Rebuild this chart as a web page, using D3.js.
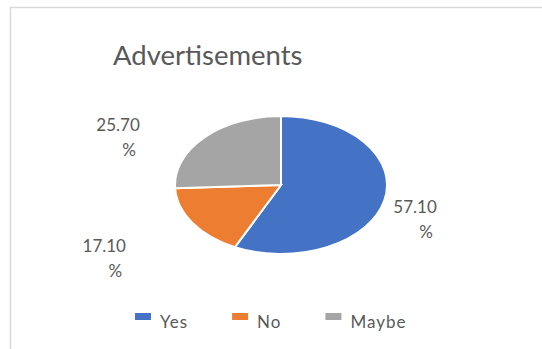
<html lang="en">
<head>
<style>
  body { margin: 0; background: #fff; }
  text { font-family: Lato, "Open Sans", sans-serif; fill: #595959; }
</style>
</head>
<body>
<script type='text/javascript' src='https://d3js.org/d3.v7.min.js'></script>
<script>
    var categories = ["Yes", "No", "Maybe"];
    var values = [57.10, 17.10, 25.70];
    var colors = ["#4472C4", "#ED7D31", "#A5A5A5"];
    var title = "Advertisements";

    // label nudges (layout only), relative to the slice's outer edge at mid angle
    var labelNudge = [[9, 13], [-110, 29], [-108, -6]];

    var width = 542, height = 349;
    var cx = 281, cy = 185, rx = 106, ry = 69;

    var svg = d3.select("body").append("svg")
        .attr("width", width)
        .attr("height", height);

    // chart border (only left/top visible in frame)
    svg.append("path")
        .attr("d", "M10.5," + height + "V7.5H" + width)
        .attr("fill", "none")
        .attr("stroke", "#d9d9d9")
        .attr("stroke-width", 1.5);

    svg.append("text")
        .attr("x", 113)
        .attr("y", 65)
        .style("font-size", "27.5px")
        .text(title);

    var pie = d3.pie().sort(null);
    var arcs = pie(values);
    var arc = d3.arc().innerRadius(0).outerRadius(rx);

    var g = svg.append("g")
        .attr("transform", "translate(" + cx + "," + cy + ") scale(1," + (ry / rx) + ")");

    g.selectAll("path")
        .data(arcs)
        .enter().append("path")
        .attr("d", arc)
        .attr("fill", function(d, i) { return colors[i]; })
        .attr("stroke", "#fff")
        .attr("stroke-width", 2)
        .attr("vector-effect", "non-scaling-stroke");

    var labels = svg.selectAll(".lbl")
        .data(arcs)
        .enter().append("text")
        .attr("class", "lbl")
        .style("font-size", "17px");

    labels.each(function(d, i) {
        var a = (d.startAngle + d.endAngle) / 2;
        var x = cx + Math.sin(a) * rx + labelNudge[i][0];
        var y = cy - Math.cos(a) * ry + labelNudge[i][1];
        var t = d3.select(this);
        t.append("tspan").attr("x", x).attr("y", y).text(values[i].toFixed(2));
        t.append("tspan").attr("x", x + 26).attr("y", y + 25).text("%");
    });

    // legend
    var lx = 135;
    categories.forEach(function(c, i) {
        svg.append("rect")
            .attr("x", lx).attr("y", 313)
            .attr("width", 16).attr("height", 7)
            .attr("fill", colors[i]);
        var t = svg.append("text")
            .attr("x", lx + 25).attr("y", 328)
            .style("font-size", "17px")
            .style("letter-spacing", "1px")
            .text(c);
        lx += 25 + t.node().getComputedTextLength() + 44;
    });
</script>
</body>
</html>
